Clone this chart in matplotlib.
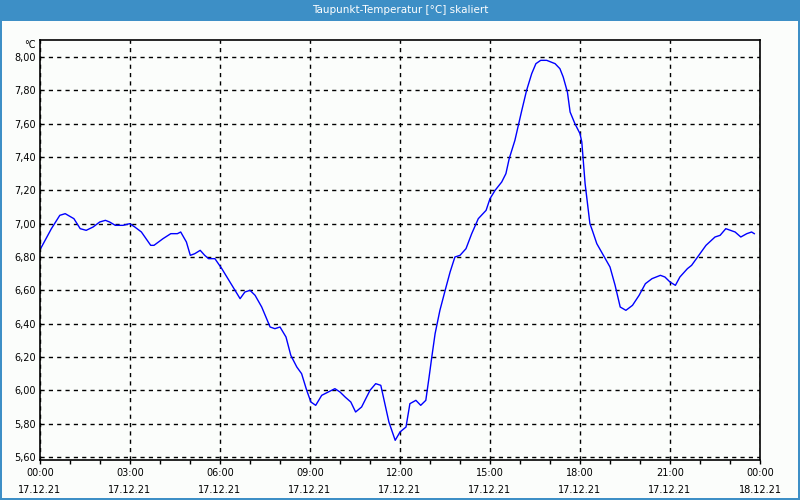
import matplotlib
matplotlib.use("Agg")
import matplotlib.pyplot as plt
from matplotlib.patches import Rectangle
from matplotlib.ticker import MultipleLocator

# hours since 17.12.21 00:00 and dew point in degC
hours = [0.02, 0.38, 0.66, 0.84, 1.13, 1.34, 1.54, 1.77, 1.99, 2.18, 2.32, 2.51,
         2.77, 2.99, 3.16, 3.38, 3.69, 3.80, 4.10, 4.36, 4.58, 4.69, 4.88, 5.01,
         5.16, 5.34, 5.49, 5.62, 5.83, 6.06, 6.33, 6.67, 6.83, 7.00, 7.17, 7.39,
         7.67, 7.83, 8.00, 8.20, 8.36, 8.56, 8.72, 8.89, 9.03, 9.19, 9.39, 9.61,
         9.83, 10.00, 10.17, 10.36, 10.52, 10.72, 11.00, 11.19, 11.36, 11.63,
         11.84, 12.00, 12.20, 12.33, 12.53, 12.69, 12.86, 12.97, 13.06, 13.17,
         13.33, 13.52, 13.67, 13.83, 14.00, 14.20, 14.39, 14.61, 14.87, 15.00,
         15.17, 15.39, 15.53, 15.64, 15.83, 16.06, 16.22, 16.39, 16.53, 16.69,
         16.89, 17.17, 17.33, 17.44, 17.58, 17.67, 17.83, 18.00, 18.06, 18.17,
         18.33, 18.41, 18.56, 18.78, 19.00, 19.17, 19.34, 19.53, 19.75, 19.97,
         20.18, 20.40, 20.68, 20.83, 21.00, 21.18, 21.33, 21.58, 21.72, 22.00,
         22.20, 22.50, 22.67, 22.86, 23.02, 23.17, 23.36, 23.56, 23.72, 23.81]
taupunkt = [6.85, 6.97, 7.05, 7.06, 7.03, 6.97, 6.96, 6.98, 7.01, 7.02, 7.01, 6.99,
            6.99, 7.00, 6.98, 6.95, 6.87, 6.87, 6.91, 6.94, 6.94, 6.95, 6.89, 6.81,
            6.82, 6.84, 6.81, 6.79, 6.79, 6.73, 6.65, 6.55, 6.59, 6.60, 6.57, 6.50,
            6.38, 6.37, 6.38, 6.32, 6.21, 6.14, 6.10, 6.00, 5.93, 5.91, 5.97, 5.99,
            6.01, 5.99, 5.96, 5.93, 5.87, 5.90, 6.00, 6.04, 6.03, 5.81,
            5.70, 5.75, 5.78, 5.92, 5.94, 5.91, 5.94, 6.08, 6.20, 6.34,
            6.48, 6.61, 6.71, 6.80, 6.81, 6.85, 6.94, 7.03, 7.08, 7.15,
            7.20, 7.25, 7.30, 7.39, 7.50, 7.68, 7.80, 7.90, 7.96, 7.98,
            7.98, 7.96, 7.93, 7.88, 7.79, 7.67, 7.60, 7.54, 7.49, 7.24,
            7.00, 6.96, 6.88, 6.81, 6.74, 6.63, 6.50, 6.48, 6.51, 6.57,
            6.64, 6.67, 6.69, 6.68, 6.65, 6.63, 6.68, 6.73, 6.75, 6.82,
            6.87, 6.92, 6.93, 6.97, 6.96, 6.95, 6.92, 6.94, 6.95, 6.94]

x_ticks = [0, 3, 6, 9, 12, 15, 18, 21, 24]
x_labels = ["00:00\n17.12.21", "03:00\n17.12.21", "06:00\n17.12.21",
            "09:00\n17.12.21", "12:00\n17.12.21", "15:00\n17.12.21",
            "18:00\n17.12.21", "21:00\n17.12.21", "00:00\n18.12.21"]
y_ticks = [5.6, 5.8, 6.0, 6.2, 6.4, 6.6, 6.8, 7.0, 7.2, 7.4, 7.6, 7.8, 8.0]

blue = "#3d8fc6"
fig = plt.figure(figsize=(8, 5), dpi=100)
fig.patch.set_facecolor(blue)
fig.patches.append(Rectangle((2 / 800, 2 / 500), 796 / 800, 477 / 500,
                             transform=fig.transFigure, facecolor="#fbfdfb",
                             edgecolor="none", zorder=-10))
fig.text(0.5, 1 - 10 / 500, "Taupunkt-Temperatur [°C] skaliert", color="white",
         ha="center", va="center", fontsize=7.5)

ax = fig.add_axes([40 / 800, 40 / 500, 720 / 800, 420 / 500])
ax.set_zorder(5)
ax.set_facecolor("#fbfdfb")
ax.plot(hours, taupunkt, color="#0000ff", lw=1)

ax.set_xlim(0, 24)
ax.set_ylim(5.582, 8.102)
ax.set_xticks(x_ticks, x_labels)
ax.xaxis.set_minor_locator(MultipleLocator(1))
ax.set_yticks(y_ticks, [f"{v:.2f}".replace(".", ",") for v in y_ticks])
ax.tick_params(axis="x", which="both", direction="out", length=3, width=1,
               labelsize=7, pad=2.5)
ax.tick_params(axis="y", length=0, labelsize=7, pad=3)
for lbl in ax.get_xticklabels():
    lbl.set_linespacing(1.9)

ax.grid(True, which="major", color="black", lw=1, linestyle=(0, (3, 3)))
for s in ax.spines.values():
    s.set_color("black")
    s.set_linewidth(1.2)

ax.text(-0.006, 1.0, "°C", transform=ax.transAxes, ha="right", va="top", fontsize=7)

fig.savefig("out.png", dpi=100, facecolor=fig.get_facecolor())
